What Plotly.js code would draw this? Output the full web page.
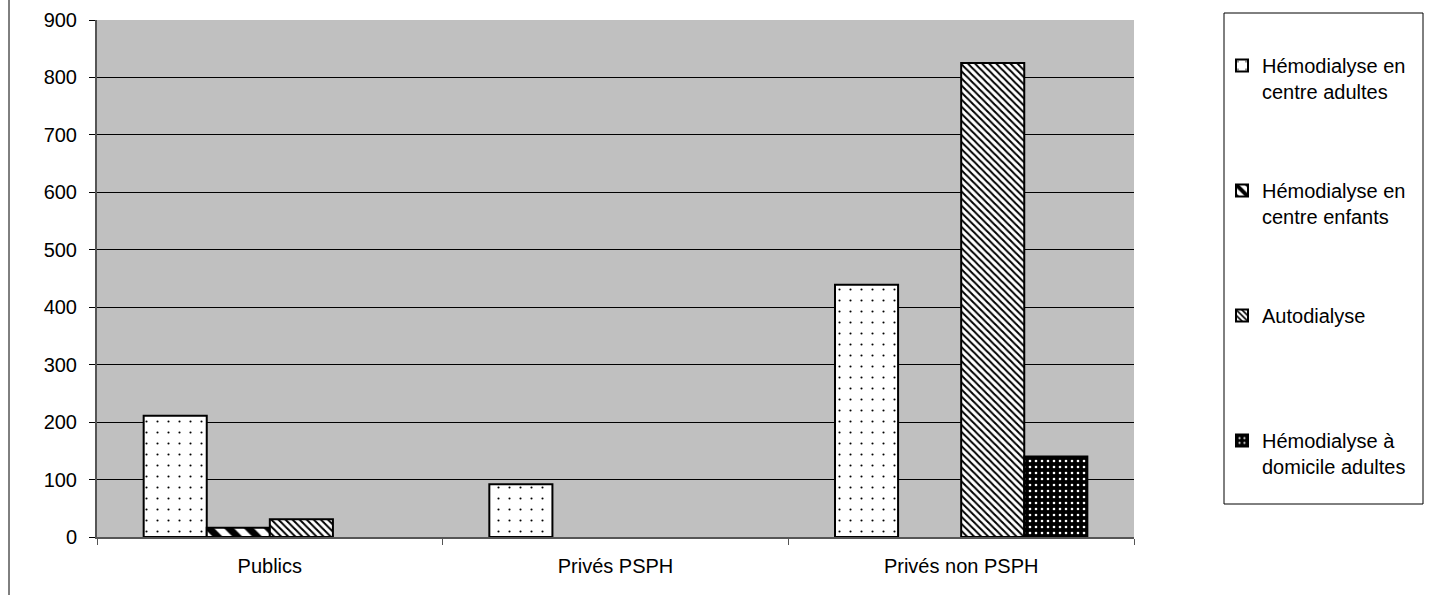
<!DOCTYPE html>
<html>
<head>
<meta charset="utf-8">
<script src="https://cdn.plot.ly/plotly-3.0.1.min.js"></script>
<style>html,body{margin:0;padding:0;background:#fff;}#chart{width:1429px;height:595px;}</style>
</head>
<body>
<div id="chart"></div>
<script>
const categories = ["Publics", "Privés PSPH", "Privés non PSPH"];
const seriesNames = ["Hémodialyse en<br>centre adultes", "Hémodialyse en<br>centre enfants", "Autodialyse<br>&nbsp;", "Hémodialyse à<br>domicile adultes"];
const hemoAdultes = [211, 92, 439];
const hemoEnfants = [16, null, null];
const autodialyse = [31, null, 825];
const domicileAdultes = [null, null, 140];
const yTicks = [0, 100, 200, 300, 400, 500, 600, 700, 800, 900];

const patterns = [
  {shape: ".", fgcolor: "black", bgcolor: "white", size: 11, solidity: 0.03},
  {shape: "\\", fgcolor: "black", bgcolor: "white", size: 14, solidity: 0.5},
  {shape: "\\", fgcolor: "black", bgcolor: "white", size: 5, solidity: 0.4},
  {shape: ".", fgcolor: "white", bgcolor: "black", size: 6, solidity: 0.15}
];
const values = [hemoAdultes, hemoEnfants, autodialyse, domicileAdultes];

const traces = values.map((v, i) => ({
  type: "bar",
  x: categories,
  y: v,
  name: seriesNames[i],
  legendgroup: "g" + i,
  marker: {color: patterns[i].bgcolor, pattern: patterns[i], line: {color: "black", width: 2}},
  hoverinfo: "x+y"
}));

const font = {family: "Liberation Sans, Arial, sans-serif", size: 20, color: "black"};

const layout = {
  width: 1429, height: 595,
  margin: {l: 97, r: 295, t: 20, b: 58},
  paper_bgcolor: "white",
  plot_bgcolor: "#c0c0c0",
  font: font,
  barmode: "group",
  bargap: 0.27,
  bargroupgap: 0,
  showlegend: true,
  legend: {
    xref: "container", yref: "container",
    x: 1222 / 1429, y: 1 - 46 / 595,
    xanchor: "left", yanchor: "top",
    bgcolor: "rgba(0,0,0,0)",
    borderwidth: 0,
    font: {family: "Liberation Sans, Arial, sans-serif", size: 20, color: "black"},
    valign: "top",
    tracegroupgap: 70,
    traceorder: "grouped",
    maxheight: 560
  },
  xaxis: {
    type: "category",
    showgrid: false,
    showline: true, linecolor: "#555", linewidth: 2,
    ticks: "outside", tickson: "boundaries", ticklen: 6, tickcolor: "#555", tickwidth: 1,
    ticklabelstandoff: 10,
    tickfont: font,
    fixedrange: true
  },
  yaxis: {
    range: [0, 900],
    tickvals: yTicks,
    ticktext: yTicks.map(String),
    showgrid: true, gridcolor: "black", gridwidth: 1,
    showline: true, linecolor: "#555", linewidth: 2,
    ticks: "outside", ticklen: 6, tickcolor: "black", tickwidth: 1,
    ticklabelstandoff: 8,
    tickfont: font,
    zeroline: false,
    fixedrange: true
  },
  shapes: [
    {type: "rect", xref: "paper", yref: "paper",
     x0: (1224 - 97) / 1037, x1: (1423 - 97) / 1037,
     y0: (537 - 504) / 517, y1: (537 - 13) / 517,
     line: {color: "black", width: 1}, fillcolor: "rgba(0,0,0,0)"},
    {type: "line", xref: "paper", yref: "paper",
     x0: (9 - 97) / 1037, x1: (9 - 97) / 1037,
     y0: -0.2, y1: 1.2,
     line: {color: "black", width: 1}}
  ]
};

Plotly.newPlot("chart", traces, layout, {displayModeBar: false, staticPlot: true});
</script>
</body>
</html>
